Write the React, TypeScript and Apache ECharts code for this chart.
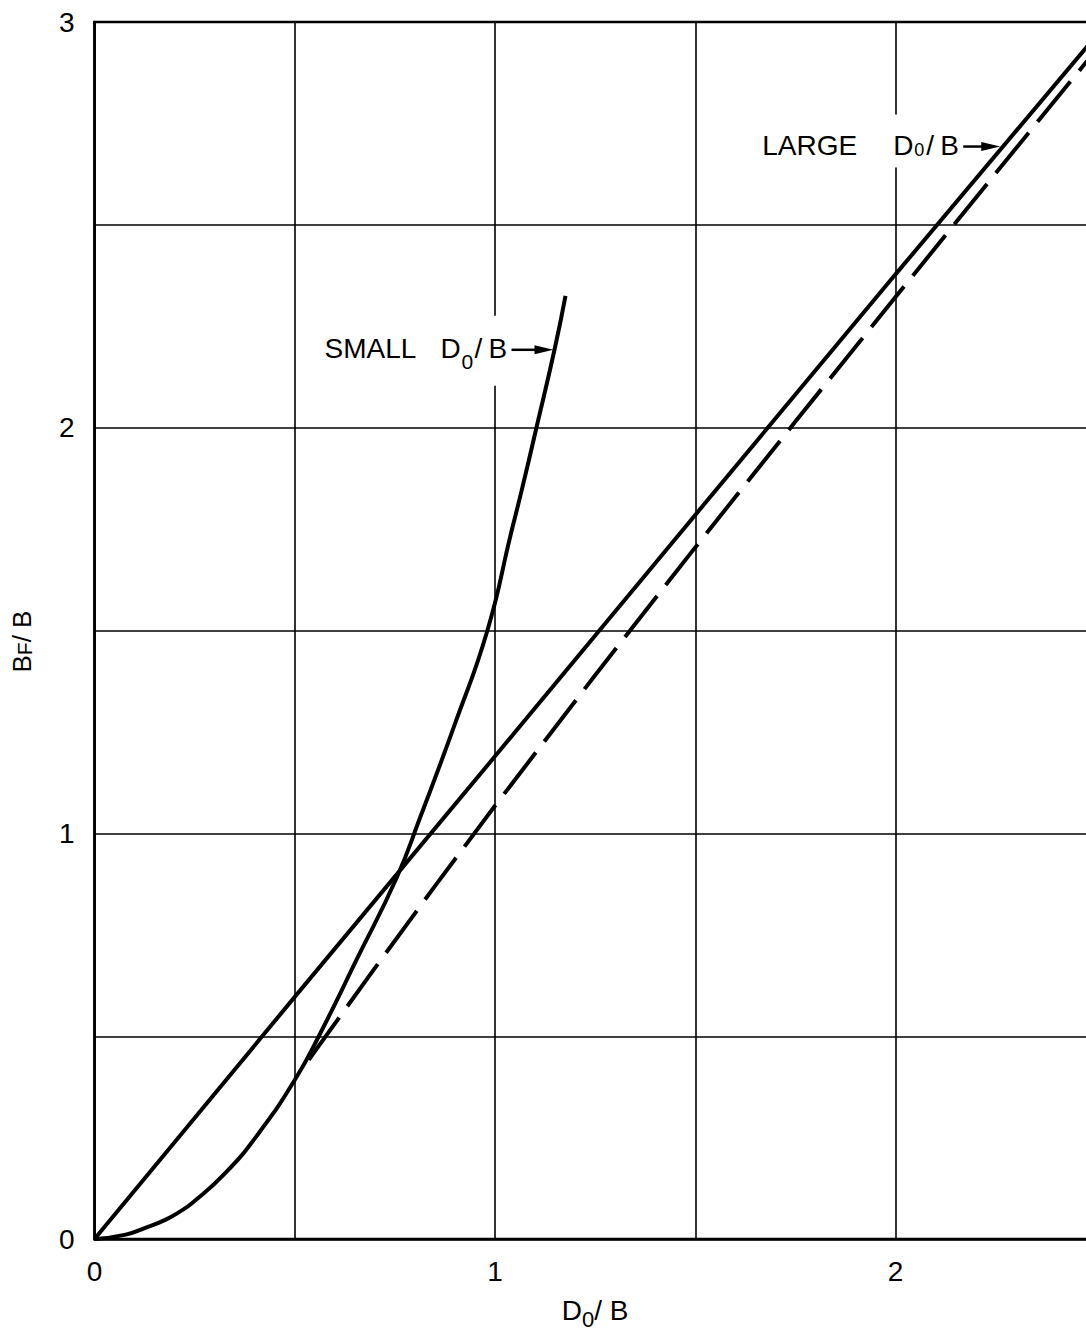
import React, { useEffect, useRef } from 'react';
import * as echarts from 'echarts';

const FONT = '"Liberation Sans", Arial, sans-serif';

// Axis ranges and tick labels
const xMin = 0;
const xMax = 2.5;
const xStep = 0.5;
const yMin = 0;
const yMax = 3;
const yStep = 0.5;
const xTickLabels: Record<string, string> = { '0': '0', '1': '1', '2': '2' };
const yTickLabels: Record<string, string> = { '0': '0', '1': '1', '2': '2', '3': '3' };

// Solid straight line (LARGE D0/B)
const largeX = [0, 0.5, 1, 1.5, 2, 2.5];
const largeY = [0, 0.597, 1.19, 1.785, 2.378, 2.965];

// Dashed line
const dashX = [0.535, 0.7, 0.85, 1.0, 1.25, 1.5, 1.75, 2.0, 2.25, 2.5];
const dashY = [0.442, 0.668, 0.87, 1.068, 1.39, 1.705, 2.015, 2.322, 2.627, 2.93];

// Curve (SMALL D0/B)
const smallX = [0, 0.078, 0.13, 0.178, 0.21, 0.244, 0.327, 0.41, 0.5, 0.56, 0.655, 0.755, 0.813, 0.9, 0.981, 1.04, 1.066, 1.103, 1.149, 1.176];
const smallY = [0, 0.011, 0.029, 0.048, 0.066, 0.089, 0.163, 0.261, 0.392, 0.5, 0.69, 0.892, 1.039, 1.27, 1.5, 1.74, 1.843, 1.998, 2.194, 2.325];

// Annotation arrow tips (data coordinates)
const smallArrowTip = [1.146, 2.192];
const largeArrowTip = [2.2615, 2.693];

const zip = (xs: number[], ys: number[]) => xs.map((x, i) => [x, ys[i]]);

function txt(text: string, x: number, y: number, size: number) {
  return {
    type: 'text',
    x,
    y,
    z: 100,
    style: {
      text,
      fill: '#000',
      fontSize: size,
      fontFamily: FONT,
      textAlign: 'left',
      textVerticalAlign: 'middle',
      align: 'left',
      verticalAlign: 'middle',
    },
  };
}

function arrow(tx: number, ty: number, shaftStart: number) {
  return [
    {
      type: 'line',
      z: 100,
      shape: { x1: tx - shaftStart, y1: ty, x2: tx - 14, y2: ty },
      style: { stroke: '#000', lineWidth: 2.5 },
    },
    {
      type: 'polygon',
      z: 100,
      shape: { points: [[tx, ty], [tx - 19, ty - 4.5], [tx - 19, ty + 4.5]] },
      style: { fill: '#000' },
    },
  ];
}

export default function App() {
  const ref = useRef<HTMLDivElement>(null);
  useEffect(() => {
    const chart = echarts.init(ref.current!, null, { renderer: 'svg' });
    const axisCommon = {
      type: 'value',
      axisTick: { show: false },
      axisLine: { show: true, onZero: false, lineStyle: { color: '#000', width: 2.5 } },
      splitLine: { show: true, lineStyle: { color: '#000', width: 1.6 } },
      nameLocation: 'middle',
    };
    chart.setOption({
      animation: false,
      backgroundColor: '#fff',
      textStyle: { fontFamily: FONT },
      grid: {
        left: 92,
        top: 22,
        width: 1003.75,
        height: 1221,
        show: true,
        borderColor: '#000',
        borderWidth: 2.5,
        backgroundColor: 'transparent',
      },
      xAxis: {
        ...axisCommon,
        min: xMin,
        max: xMax,
        interval: xStep,
        axisLabel: {
          color: '#000',
          fontSize: 28,
          fontFamily: FONT,
          margin: 18,
          showMinLabel: true,
          formatter: (v: number) => xTickLabels[String(v)] ?? '',
        },
        name: '{m|D}{s|0}{m|/ B}',
        nameGap: 55,
        nameTextStyle: {
          color: '#000',
          fontFamily: FONT,
          rich: {
            m: { fontSize: 28, lineHeight: 28, fontFamily: FONT, color: '#000' },
            s: { fontSize: 22, lineHeight: 28, padding: [18, 0, 0, 0], fontFamily: FONT, color: '#000' },
          },
        },
      },
      yAxis: {
        ...axisCommon,
        min: yMin,
        max: yMax,
        interval: yStep,
        axisLabel: {
          color: '#000',
          fontSize: 28,
          fontFamily: FONT,
          margin: 20,
          showMinLabel: true,
          showMaxLabel: true,
          formatter: (v: number) => yTickLabels[String(v)] ?? '',
        },
        name: '{m|B}{s|F}{m|/ B}',
        nameRotate: 90,
        nameGap: 60,
        nameTextStyle: {
          color: '#000',
          fontFamily: FONT,
          padding: [0, 22, 0, 0],
          rich: {
            m: { fontSize: 26, lineHeight: 26, fontFamily: FONT, color: '#000' },
            s: { fontSize: 21, lineHeight: 26, padding: [6, 0, 0, 0], fontFamily: FONT, color: '#000' },
          },
        },
      },
      series: [
        {
          name: 'Large D0/B',
          type: 'line',
          data: zip(largeX, largeY),
          showSymbol: false,
          symbol: 'none',
          lineStyle: { color: '#000', width: 4 },
          z: 3,
        },
        {
          name: 'Asymptote',
          type: 'line',
          data: zip(dashX, dashY),
          showSymbol: false,
          symbol: 'none',
          lineStyle: { color: '#000', width: 4, type: [52, 14] },
          z: 3,
        },
        {
          name: 'Small D0/B',
          type: 'line',
          data: zip(smallX, smallY),
          smooth: 0.5,
          showSymbol: false,
          symbol: 'none',
          lineStyle: { color: '#000', width: 4 },
          z: 3,
        },
      ],
    });

    const t1 = chart.convertToPixel({ gridIndex: 0 }, smallArrowTip) as number[];
    const t2 = chart.convertToPixel({ gridIndex: 0 }, largeArrowTip) as number[];
    const [ax, ay] = t1;
    const [bx, by] = t2;

    chart.setOption({
      graphic: [
        // SMALL label
        { type: 'rect', z: 5, shape: { x: ax - 236, y: ay - 34, width: 194, height: 70 }, style: { fill: '#fff' } },
        txt('SMALL', ax - 229, ay - 1, 28),
        txt('D', ax - 113, ay - 1, 28),
        txt('0', ax - 92, ay + 12, 21),
        txt('/', ax - 79, ay - 1, 28),
        txt('B', ax - 65, ay - 1, 28),
        ...arrow(ax, ay, 42),
        // LARGE label
        { type: 'rect', z: 5, shape: { x: bx - 245, y: by - 32, width: 205, height: 53 }, style: { fill: '#fff' } },
        txt('LARGE', bx - 238, by - 1, 28),
        txt('D', bx - 107, by - 1, 28),
        txt('0', bx - 86, by + 3, 18),
        txt('/', bx - 74, by - 1, 28),
        txt('B', bx - 60, by - 1, 28),
        ...arrow(bx, by, 37),
      ],
    });

    return () => chart.dispose();
  }, []);

  return (
    <div
      style={{
        position: 'fixed',
        left: 0,
        top: 0,
        width: 1086,
        height: 1335,
        overflow: 'hidden',
        background: '#fff',
      }}
    >
      <div ref={ref} style={{ width: 1120, height: 1335 }} />
    </div>
  );
}
